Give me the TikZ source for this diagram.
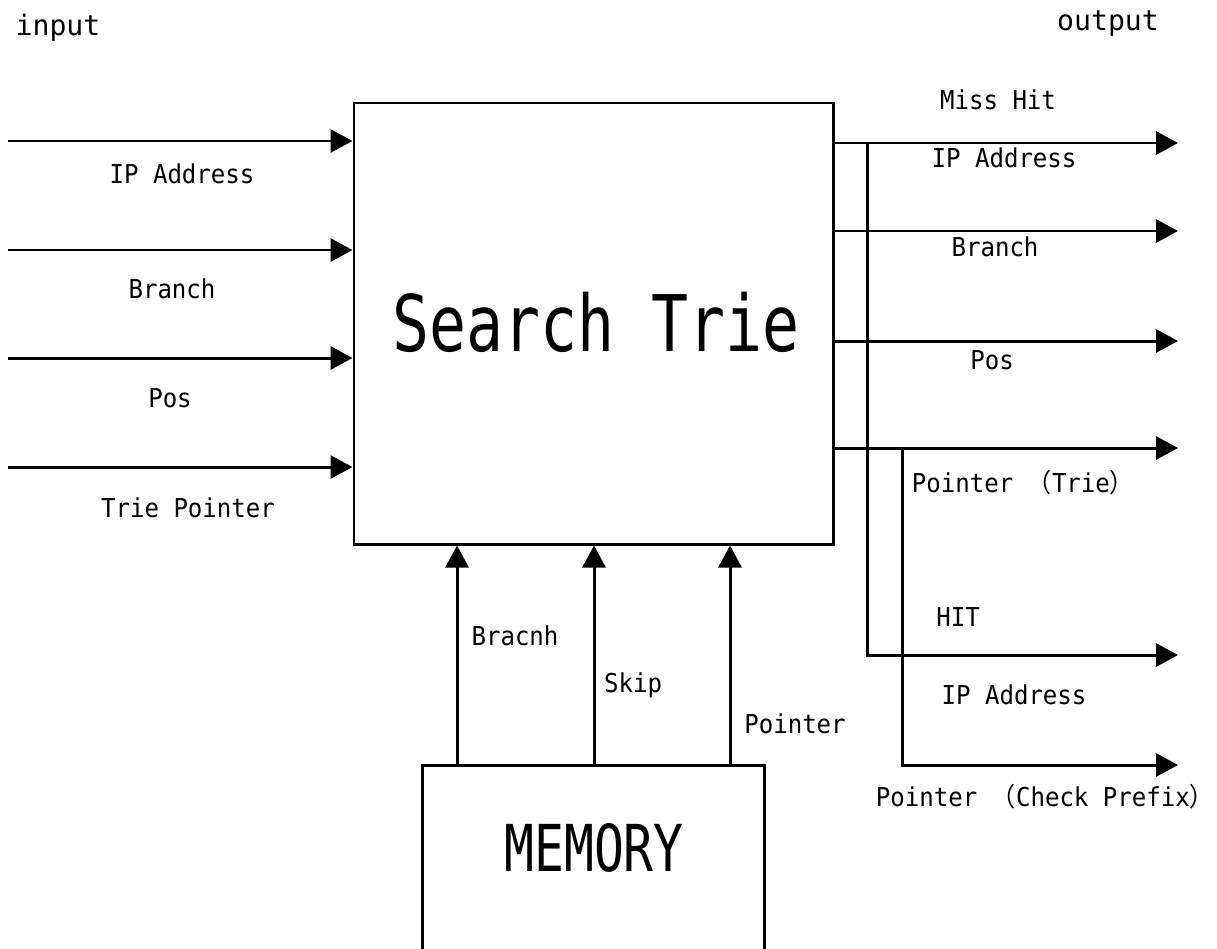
\documentclass[tikz,border=0pt]{standalone}
\usepackage{fontspec}
\setmonofont{DejaVu Sans Mono}
\newfontfamily\jpfont{Noto Sans CJK JP}
\usetikzlibrary{arrows.meta,positioning}
\tikzset{
  sig/.style={line width=1.7pt,-{Triangle[length=0.44cm,width=0.46cm]}},
  lbl/.style={font=\ttfamily\fontsize{13.7}{16}\selectfont,inner sep=0pt},
  blk/.style={draw,line width=1.7pt,inner sep=0pt}
}
\begin{document}
\begin{tikzpicture}
\useasboundingbox (0,0) rectangle (24.34,-18.96);
% blocks
\node[blk,minimum width=9.58cm,minimum height=8.82cm] (trie) at (11.87,-6.47) {};
\node[font=\ttfamily\fontsize{35}{40}\selectfont] (trietxt) at (11.92,-6.44) {\scalebox{1}[1.27]{Search Trie}};
\node[blk,minimum width=6.84cm,minimum height=3.8cm] (mem) at (11.86,-17.2) {};
\node[font=\ttfamily\fontsize{28.3}{32}\selectfont] (memtxt) at (11.88,-16.96) {\scalebox{1}[1.3]{MEMORY}};
% headings
\node[font=\ttfamily\fontsize{16}{18}\selectfont] (intxt) at (1.16,-0.56) {input};
\node[font=\ttfamily\fontsize{16}{18}\selectfont] (outtxt) at (22.16,-0.48) {output};
% inputs
\foreach \n/\y/\lx/\ly/\t in {1/-2.82/3.64/-3.48/IP Address, 2/-5.0/3.44/-5.78/Branch,
    3/-7.16/3.40/-7.96/Pos, 4/-9.34/3.76/-10.16/Trie Pointer}{
  \coordinate (in\n) at (0.16,\y);
  \draw[sig] (in\n) -- (in\n -| trie.west);
  \node[lbl] (inl\n) at (\lx,\ly) {\scalebox{1}[1.08]{\t}};
}
% outputs
\foreach \n/\y in {1/-2.86, 2/-4.62, 3/-6.82, 4/-8.96}{
  \coordinate (out\n) at (23.56,\y);
  \draw[sig] (out\n -| trie.east) -- (out\n);
}
\coordinate (hit) at (23.56,-13.1);
\coordinate (chk) at (23.56,-15.3);
\coordinate (bus1) at (17.34,-2.86);
\coordinate (bus2) at (18.04,-8.96);
\draw[sig] (bus1) -- (bus1 |- hit) -- (hit);
\draw[sig] (bus2) -- (bus2 |- chk) -- (chk);
\node[lbl] (miss) at (19.96,-2.0) {\scalebox{1}[1.08]{Miss Hit}};
\node[lbl] (outl1) at (20.08,-3.16) {\scalebox{1}[1.08]{IP Address}};
\node[lbl] (outl2) at (19.9,-4.94) {\scalebox{1}[1.08]{Branch}};
\node[lbl] (outl3) at (19.84,-7.2) {\scalebox{1}[1.08]{Pos}};
\node[lbl] (outl4) at (20.46,-9.66) {\scalebox{1}[1.08]{Pointer {\jpfont （}Trie{\jpfont ）}}};
\node[lbl] (hitl) at (19.16,-12.34) {\scalebox{1}[1.08]{HIT}};
\node[lbl] (hitip) at (20.28,-13.9) {\scalebox{1}[1.08]{IP Address}};
\node[lbl] (chkl) at (20.9,-15.94) {\scalebox{1}[1.08]{Pointer {\jpfont （}Check Prefix{\jpfont ）}}};
% memory to trie
\foreach \n/\x/\lx/\ly/\t in {1/9.14/10.3/-12.72/Bracnh, 2/11.88/12.66/-13.7/Skip,
    3/14.6/15.9/-14.48/Pointer}{
  \coordinate (m\n) at (\x,-15.3);
  \draw[sig] (m\n) -- (m\n |- trie.south);
  \node[lbl] (ml\n) at (\lx,\ly) {\scalebox{1}[1.08]{\t}};
}
\end{tikzpicture}
\end{document}
